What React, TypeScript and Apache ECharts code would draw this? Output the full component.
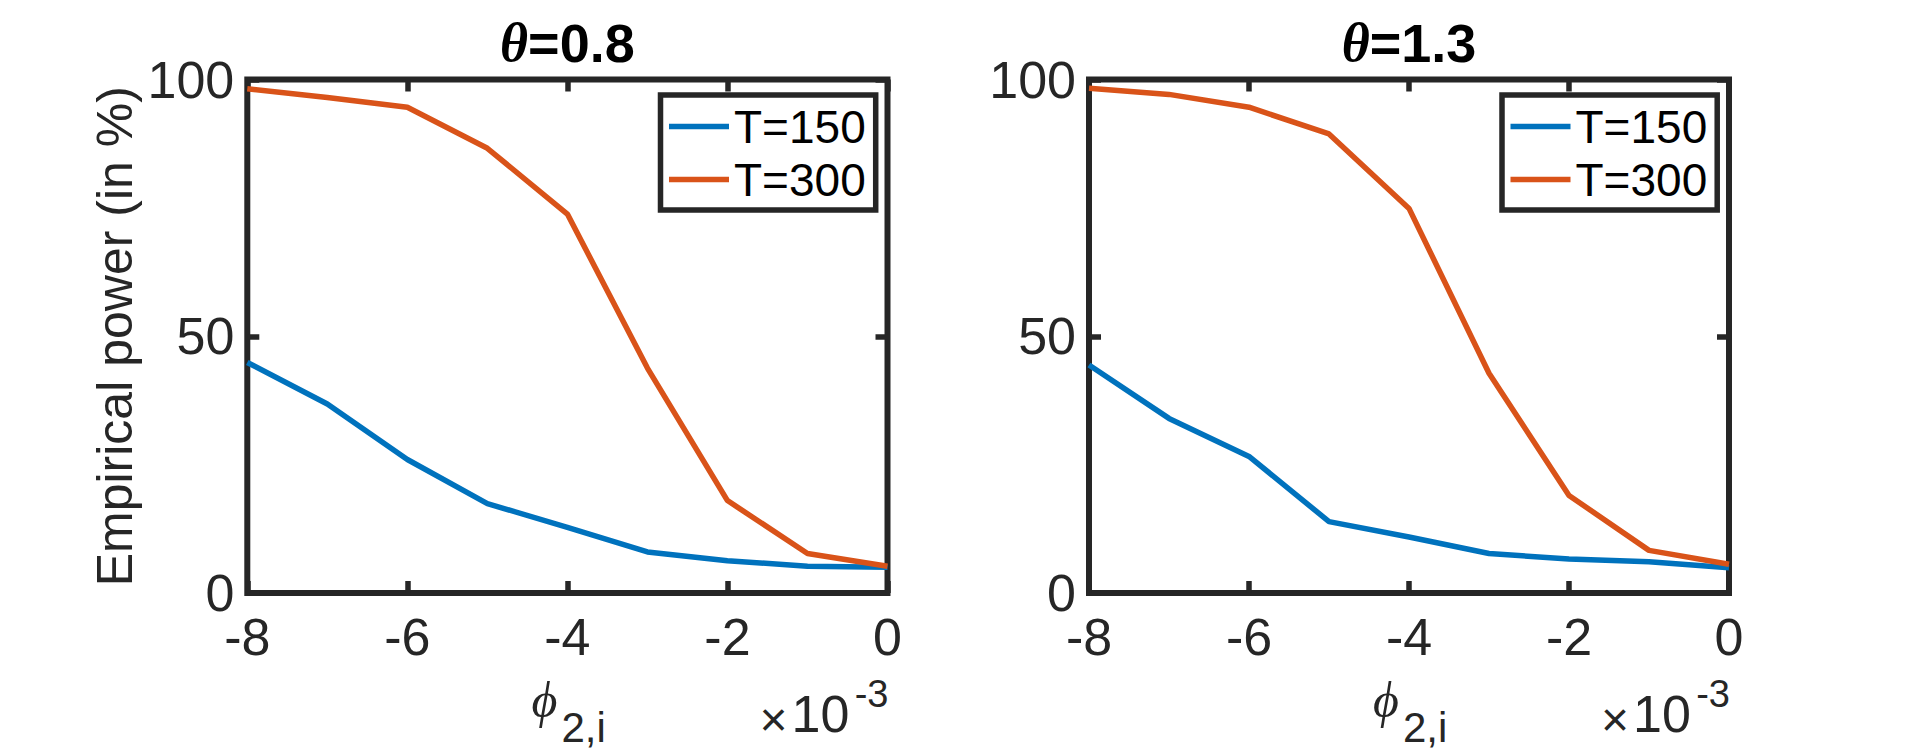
import React, { useEffect, useRef } from "react";
import * as echarts from "echarts";

// phi_{2,i} values, in units of 10^-3
const phiValues = [-8, -7, -6, -5, -4, -3, -2, -1, 0];
const seriesNames = ["T=150", "T=300"];
const panelTitles = ["=0.8", "=1.3"];
const yTicks = { min: 0, max: 100, step: 50 };
const xTicks = { min: -8, max: 0, step: 2 };
const yAxisTitle = "Empirical power (in %)";

// Empirical power (in %), theta = 0.8
const theta08_T150 = [44.9, 36.8, 26.0, 17.4, 12.8, 8.0, 6.3, 5.2, 5.0];
const theta08_T300 = [98.2, 96.5, 94.6, 86.6, 73.8, 43.8, 18.0, 7.7, 5.2];
// Empirical power (in %), theta = 1.3
const theta13_T150 = [44.4, 34.0, 26.6, 13.9, 10.9, 7.7, 6.6, 6.1, 4.9];
const theta13_T300 = [98.3, 97.1, 94.6, 89.4, 74.9, 42.8, 19.0, 8.3, 5.6];

const SANS = "'Liberation Sans', Arial, Helvetica, sans-serif";
const SERIF = "'Liberation Serif', 'DejaVu Serif', 'Times New Roman', serif";
const AX = "#262626";
const BLUE = "#0072BD";
const ORANGE = "#D95319";

const GRIDS = [
  { left: 247.3, top: 79.5, width: 640.2, height: 513.5 },
  { left: 1089, top: 79.5, width: 640, height: 513.5 },
];

function pairs(ys: number[]) {
  return phiValues.map((x, i) => [x, ys[i]]);
}

export default function App() {
  const ref = useRef<HTMLDivElement>(null);
  useEffect(() => {
    if (!ref.current) return;
    const chart = echarts.init(ref.current, undefined, { renderer: "svg" });

    const tick = { show: true, inside: true, length: 12, lineStyle: { color: AX, width: 5.5 } };
    const noLine = { show: false, onZero: false };
    const xAxes: any[] = [];
    const yAxes: any[] = [];
    GRIDS.forEach((g, gi) => {
      xAxes.push({
        type: "value", gridIndex: gi, position: "bottom",
        min: xTicks.min, max: xTicks.max, interval: xTicks.step,
        axisLine: noLine, axisTick: tick, splitLine: { show: false },
        axisLabel: { show: true, margin: 18, fontSize: 52, fontFamily: SANS, color: AX },
      });
      xAxes.push({
        type: "value", gridIndex: gi, position: "top",
        min: xTicks.min, max: xTicks.max, interval: xTicks.step,
        axisLine: noLine, axisTick: tick, splitLine: { show: false },
        axisLabel: { show: false },
      });
      yAxes.push({
        type: "value", gridIndex: gi, position: "left",
        min: yTicks.min, max: yTicks.max, interval: yTicks.step,
        axisLine: noLine, axisTick: tick, splitLine: { show: false },
        axisLabel: { show: true, margin: 13, fontSize: 52, fontFamily: SANS, color: AX },
        name: gi === 0 ? yAxisTitle : "",
        nameLocation: "middle",
        nameGap: 107,
        nameTextStyle: { fontSize: 50, fontFamily: SANS, color: AX },
      });
      yAxes.push({
        type: "value", gridIndex: gi, position: "right",
        min: yTicks.min, max: yTicks.max, interval: yTicks.step,
        axisLine: noLine, axisTick: tick, splitLine: { show: false },
        axisLabel: { show: false },
      });
    });

    const panels = [
      [theta08_T150, theta08_T300],
      [theta13_T150, theta13_T300],
    ];
    const colors = [BLUE, ORANGE];
    const series: any[] = [];
    panels.forEach((p, gi) => {
      p.forEach((ys, si) => {
        series.push({
          type: "line", name: seriesNames[si],
          xAxisIndex: gi * 2, yAxisIndex: gi * 2,
          data: pairs(ys),
          showSymbol: false, symbol: "none",
          color: colors[si],
          itemStyle: { color: colors[si] },
          lineStyle: { color: colors[si], width: 5.5 },
          z: 3,
        });
      });
    });

    const titles = GRIDS.map((g, gi) => ({
      text: "{t|θ}{b|" + panelTitles[gi] + "}",
      left: g.left + g.width / 2,
      textAlign: "center",
      top: 16,
      padding: 0,
      textStyle: {
        rich: {
          t: { fontFamily: SERIF, fontStyle: "italic", fontSize: 54, color: "#000" },
          b: { fontFamily: SANS, fontWeight: "bold", fontSize: 54, color: "#000" },
        },
      },
    }));

    const legends = GRIDS.map((g) => ({
      orient: "vertical",
      left: g.left + g.width - 16 - 211,
      top: 95,
      data: seriesNames,
      icon: "rect",
      itemWidth: 60,
      itemHeight: 5.5,
      itemGap: 7,
      padding: [8.5, 10, 7.5, 8.5],
      borderColor: AX,
      borderWidth: 5.5,
      backgroundColor: "#fff",
      selectedMode: false,
      textStyle: { fontSize: 46, lineHeight: 46, fontFamily: SANS, color: "#000" },
    }));

    const graphic: any[] = [];
    GRIDS.forEach((g) => {
      const cx = g.left + g.width / 2;
      const right = g.left + g.width;
      graphic.push({
        type: "text", x: cx - 10, y: 700,
        style: { text: "ϕ", fontFamily: SERIF, fontStyle: "italic", fontSize: 50, fill: AX, align: "right", verticalAlign: "middle" },
      });
      graphic.push({
        type: "text", x: cx - 6, y: 727,
        style: { text: "2,i", fontFamily: SANS, fontSize: 42, fill: AX, align: "left", verticalAlign: "middle" },
      });
      graphic.push({
        type: "text", x: right - 114, y: 719.5,
        style: { text: "×", fontFamily: SANS, fontSize: 48, fill: AX, align: "center", verticalAlign: "middle" },
      });
      graphic.push({
        type: "text", x: right - 96, y: 713.5,
        style: { text: "10", fontFamily: SANS, fontSize: 52, fill: AX, align: "left", verticalAlign: "middle" },
      });
      graphic.push({
        type: "text", x: right + 1, y: 693.5,
        style: { text: "-3", fontFamily: SANS, fontSize: 38, fill: AX, align: "right", verticalAlign: "middle" },
      });
    });

    chart.setOption({
      animation: false,
      backgroundColor: "#fff",
      title: titles,
      legend: legends,
      grid: GRIDS.map((g) => ({
        ...g,
        show: true,
        borderColor: AX,
        borderWidth: 6,
        backgroundColor: "transparent",
        containLabel: false,
      })),
      xAxis: xAxes,
      yAxis: yAxes,
      series,
      graphic,
    });
    return () => chart.dispose();
  }, []);

  return (
    <div
      ref={ref}
      style={{ position: "absolute", left: 0, top: 0, width: 1910, height: 750 }}
    />
  );
}
